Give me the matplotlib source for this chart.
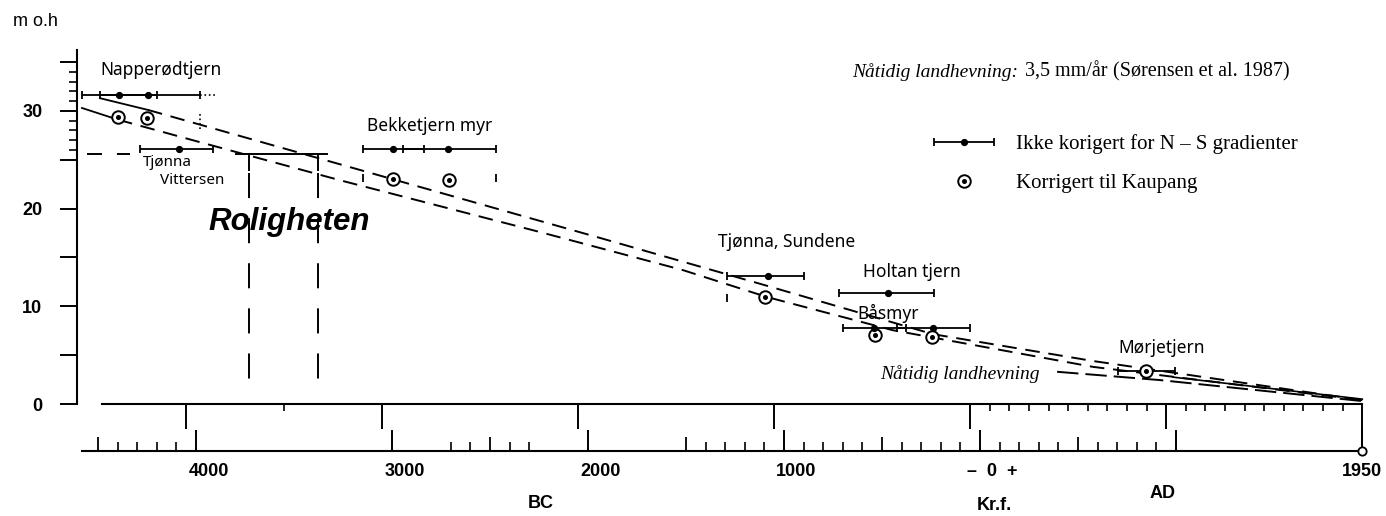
import numpy as np
import matplotlib.pyplot as plt
from matplotlib.ticker import FixedLocator, FuncFormatter, NullFormatter
from matplotlib.container import ErrorbarContainer
from matplotlib.legend_handler import HandlerErrorbar, HandlerTuple
import matplotlib.transforms as mtransforms

plt.rcParams['font.family'] = ['Liberation Sans', 'DejaVu Sans']

W, H = 1386, 516

# år: AD positiv, BC negativ ; høyde i m o.h.
# ukorrigerte dateringer (midtpunkt, fra, til, høyde)
unc_mid = [-4393, -4245, -4087, -2995, -2714, -1082, -469, -541, -240]
unc_from = [-4582, -4490, -4286, -3148, -2944, -1291, -719, -699, -423]
unc_to = [-4199, -3980, -3913, -2837, -2469, -898, -235, -378, -51]
unc_h = [31.6, 31.6, 26.1, 26.1, 26.1, 13.1, 11.4, 7.8, 7.8]

# korrigert til Kaupang
cor_year = [-4398, -4250, -2995, -2709, -1097, -536, -245, 847]
cor_h = [29.4, 29.3, 23.0, 22.9, 10.95, 7.05, 6.85, 3.4]
cor_end_year = [-3148, -2469, -1291]
cor_end_h = [23.1, 23.1, 10.85]

# Mørjetjern
mor_from, mor_mid, mor_to, mor_h = 704, 847, 995, 3.4

# strandforskyvningskurver
upper_solid_year = [-4490, -4245]
upper_solid_h = [31.3, 30.1]
upper_year = [-4245, -2995, -1939, -1087, -240, 577, 1950]
upper_h = [30.1, 23.0, 17.0, 12.1, 7.15, 4.4, 0.4]
lower_solid_year = [-4582, -4398]
lower_solid_h = [30.3, 29.1]
lower_year = [-4398, -3980, -3265, -2245, -1515, -1087, -444, 577, 1950]
lower_h = [29.1, 26.8, 22.9, 17.6, 13.7, 10.95, 7.55, 3.8, 0.4]
present_year = [393, 918, 1950]
present_h = [3.3, 2.45, 0.3]
mor_line_year = [985, 1950]
mor_line_h = [2.75, 0.5]

# Roligheten
rol_from, rol_to, rol_h = -3796, -3332, 25.6
rol_posts = [-3730, -3378]
rol_lead = [-4556, -4337]

# akser
y_major = [0, 5, 10, 15, 20, 25, 30, 35]
y_minor = [26, 27, 28, 29, 31, 32, 33, 34]
bp_major = [6000, 5000, 4000, 3000, 2000, 1000]
bp_minor = [5500] + list(range(100, 2000, 100))
cal_major = [-4000, -3000, -2000, -1000, 0, 1000, 1950]
cal_labels = ['4000', '3000', '2000', '1000', '–  0  +', '', '1950']
cal_mid = [-4500, -2500, -1500, -500, 500]
cal_minor = [-4400, -4300, -4200, -4100, -2700, -2600, -2400, -2300,
             -1400, -1300, -1200, -1100, -900, -800, -700, -600, -400,
             -300, -200, -100, 100, 200, 300, 400, 600, 700, 800, 900]
LOWER = -4.8

fig = plt.figure(figsize=(W / 100, H / 100), dpi=100)
ax = fig.add_axes([0, 0, 1, 1])
ax.set_xlim(-5000, 2071)
ax.set_ylim(-11.46, 41.35)

for s in ['top', 'right']:
    ax.spines[s].set_visible(False)
ax.spines['left'].set_position(('data', -4607))
ax.spines['left'].set_bounds(0, 36.2)
ax.spines['bottom'].set_position(('data', 0))
ax.spines['bottom'].set_bounds(-4480, 1950)
for s in ['left', 'bottom']:
    ax.spines[s].set_linewidth(1.5)

ax.yaxis.set_major_locator(FixedLocator(y_major))
ax.yaxis.set_major_formatter(FuncFormatter(lambda v, p: f'{v:.0f}' if v % 10 == 0 else ''))
ax.yaxis.set_minor_locator(FixedLocator(y_minor))
ax.tick_params(axis='y', which='major', length=12, width=1.4, pad=13, labelsize=13)
ax.tick_params(axis='y', which='minor', length=6, width=1.2)
for t in ax.get_yticklabels():
    t.set_fontweight('bold')

ax.xaxis.set_major_locator(FixedLocator([1950 - b for b in bp_major]))
ax.xaxis.set_major_formatter(NullFormatter())
ax.xaxis.set_minor_locator(FixedLocator([1950 - b for b in bp_minor]))
ax.tick_params(axis='x', which='major', length=18, width=1.4)
ax.tick_params(axis='x', which='minor', length=5, width=1.2)
ax.vlines(1950, LOWER, 0, color='black', lw=1.4)

# nedre tidsakse (kalenderår)
y0, y1 = ax.get_ylim()
sec = ax.secondary_xaxis((LOWER - y0) / (y1 - y0))
sec.spines['bottom'].set_bounds(-4582, 1950)
sec.spines['bottom'].set_linewidth(1.5)
sec.set_xticks(cal_major, labels=cal_labels)
sec.xaxis.set_minor_locator(FixedLocator(cal_minor))
sec.tick_params(which='major', direction='in', length=15, width=1.4, pad=9, labelsize=13)
sec.tick_params(which='minor', direction='in', length=6.5, width=1.2)
off = mtransforms.ScaledTranslation(9 / 72, 0, fig.dpi_scale_trans)
for lbl in sec.get_xticklabels():
    lbl.set_fontweight('bold')
    if lbl.get_text() != '1950':
        lbl.set_transform(lbl.get_transform() + off)
ax.vlines(cal_mid, LOWER, LOWER + 1.4, color='black', lw=1.3)
ax.plot(1950, LOWER, marker='o', ms=6, mfc='white', mec='black', mew=1.3)

# kurver
ax.plot(upper_solid_year, upper_solid_h, color='black', lw=1.3)
ax.plot(lower_solid_year, lower_solid_h, color='black', lw=1.3)
ax.plot(upper_year, upper_h, color='black', lw=1.4, dashes=(7.5, 4.5))
ax.plot(lower_year, lower_h, color='black', lw=1.4, dashes=(7.5, 4.5))
ax.plot(present_year, present_h, color='black', lw=1.4, dashes=(11, 3.6))
ax.plot(mor_line_year, mor_line_h, color='black', lw=1.2)

# Roligheten
ax.plot([rol_from, rol_to], [rol_h, rol_h], color='black', lw=1.4)
ax.plot(rol_lead, [rol_h, rol_h], color='black', lw=1.4, dashes=(7.7, 7.7))
for px in rol_posts:
    ax.plot([px, px], [rol_h, 24.0], color='black', lw=1.4)
    ax.plot([px, px], [23.6, 0.9], color='black', lw=1.4, dashes=(12.9, 10.3))

# dateringer
xerr = [np.subtract(unc_mid, unc_from), np.subtract(unc_to, unc_mid)]
eb = ax.errorbar(unc_mid, unc_h, xerr=xerr, fmt='o', ms=4.2, color='black',
                 elinewidth=1.3, capsize=3, capthick=1.3)
ax.errorbar([mor_mid], [mor_h], xerr=[[mor_mid - mor_from], [mor_to - mor_mid]],
            fmt='none', ecolor='black', elinewidth=1.3, capsize=3, capthick=1.3)
ax.vlines(cor_end_year, np.subtract(cor_end_h, 0.4), np.add(cor_end_h, 0.4), color='black', lw=1.3)
ax.plot([-3980, -3980], [28.1, 29.8], color='black', lw=1.2, ls=':')
ax.plot([-3980, -3893], [31.6, 31.6], color='black', lw=1.2, ls=':')
ring, = ax.plot(cor_year, cor_h, 'o', ms=9, mfc='white', mec='black', mew=1.4)
dot, = ax.plot(cor_year, cor_h, 'o', ms=2.6, color='black')

leg = ax.legend([eb, (ring, dot)],
                ['Ikke korigert for N – S gradienter', 'Korrigert til Kaupang'],
                handler_map={ErrorbarContainer: HandlerErrorbar(xerr_size=1.45),
                             tuple: HandlerTuple(ndivide=1)},
                loc='upper left', bbox_to_anchor=(933 / W, 1 - 134 / H),
                frameon=False, prop={'family': 'Liberation Serif', 'size': 15},
                handlelength=3, handletextpad=1.0, labelspacing=0.95,
                borderpad=0, borderaxespad=0)


def ft(px, py, s, **kw):
    fig.text(px / W, 1 - py / H, s, va='center', **kw)


hand = dict(family='Noto Sans', fontsize=12.5)
ft(100, 70, 'Napperødtjern', **hand)
ft(143, 163, 'Tjønna', fontsize=11, family='Noto Sans')
ft(160, 180, 'Vittersen', fontsize=11, family='Noto Sans')
ft(367, 126, 'Bekketjern myr', **hand)
ft(718, 242, 'Tjønna, Sundene', **hand)
ft(863, 272, 'Holtan tjern', **hand)
ft(857, 313, 'Båsmyr', **hand)
ft(1118, 348, 'Mørjetjern', **hand)

ft(208, 222, 'Roligheten', fontsize=22.5, fontweight='bold', fontstyle='italic')
ft(880, 374, 'Nåtidig landhevning', family='Liberation Serif', fontsize=14, fontstyle='italic')

ft(1018, 72, 'Nåtidig landhevning:', family='Liberation Serif', fontsize=14,
   fontstyle='italic', ha='right')
ft(1025, 72, '3,5 mm/år', family='Liberation Serif', fontsize=14.5)
ft(1113, 72, '(Sørensen et al. 1987)', family='Liberation Serif', fontsize=14.5)

ft(13, 22, 'm o.h', fontsize=13)
ft(541, 503, 'BC', fontsize=13, fontweight='bold', ha='center')
ft(994, 506, 'Kr.f.', fontsize=13, fontweight='bold', ha='center')
ft(1163, 493, 'AD', fontsize=13, fontweight='bold', ha='center')

plt.savefig('out.png', dpi=100)
